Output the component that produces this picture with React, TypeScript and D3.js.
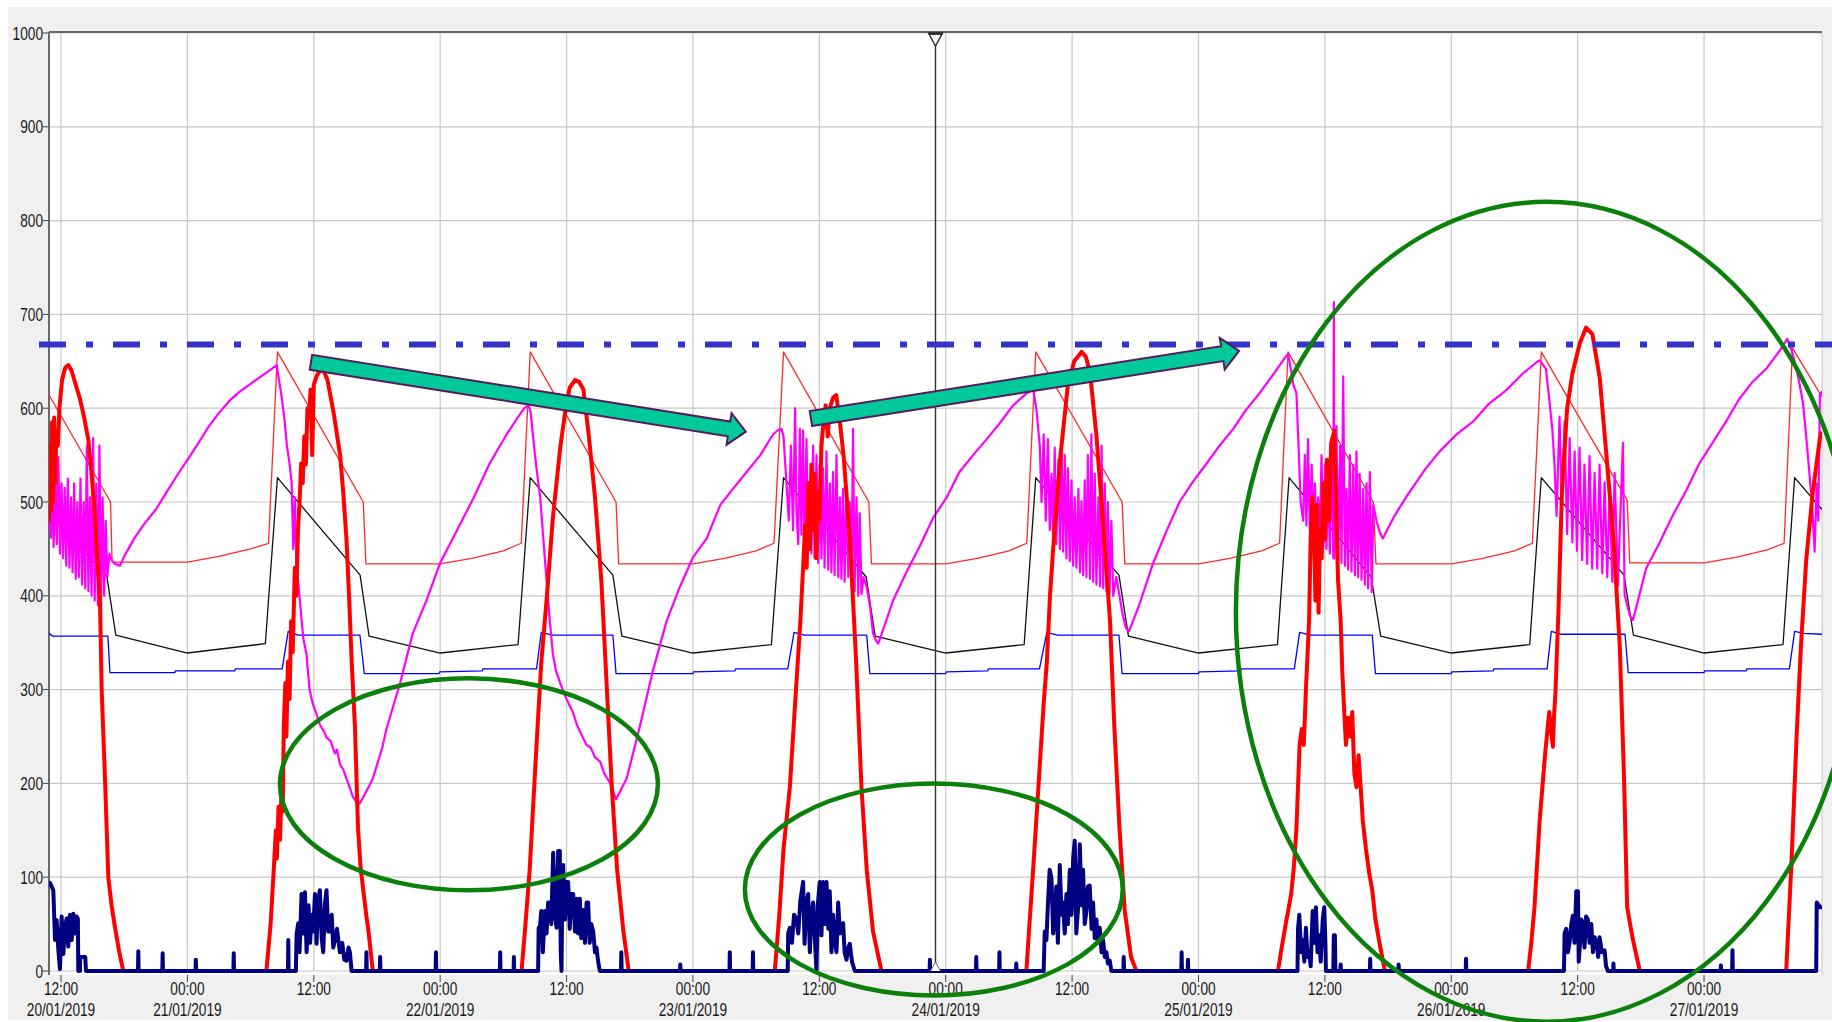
import React from 'react';
import * as d3 from 'd3';

type Pt = [number, number];

// hours counted from 20/01/2019 00:00
const startHour = 10.86;
const endHour = 179.2;
const yTicks = [0, 100, 200, 300, 400, 500, 600, 700, 800, 900, 1000];

// thick red (daily bell)
const redThick: Pt[] = [
  [10.86,478],[10.95,560],[11.05,490],[11.15,585],[11.25,500],[11.35,590],[11.45,520],[11.55,575],[11.7,560],[11.85,600],[12.1,630],[12.4,643],[12.7,646],[13.0,640],[13.4,625],[13.8,610],[14.2,590],[14.6,566],[14.9,530],[15.23,484],[15.5,430],[15.7,395],[15.86,300],[16.18,204],[16.49,100],[16.8,70],[17.12,47],[17.5,22],[17.91,0],
  [31.5,0],[31.9,50],[32.2,108],[32.4,150],[32.5,120],[32.65,175],[32.8,140],[32.95,200],[33.05,170],[33.15,260],[33.3,307],[33.4,250],[33.55,330],[33.7,290],[33.85,373],[34.0,340],[34.2,430],[34.35,400],[34.5,470],[34.65,500],[34.8,541],[34.95,520],[35.1,570],[35.25,540],[35.4,600],[35.55,590],[35.7,620],[35.85,550],[36.0,625],[36.3,635],[36.6,640],[36.9,641],[37.3,630],[37.6,612],[37.9,594],[38.2,572],[38.5,550],[38.8,510],[39.1,461],[39.35,400],[39.6,329],[39.9,263],[40.2,152],[40.45,110],[40.7,86],[41.0,58],[41.2,42],[41.6,0],
  [55.73,0],[56.1,50],[56.5,108],[56.85,180],[57.15,241],[57.6,329],[58.1,395],[58.7,483],[59.4,558],[59.85,594],[60.3,622],[60.8,630],[61.2,628],[61.6,620],[62.1,572],[62.7,505],[63.3,417],[63.8,307],[64.3,196],[64.8,108],[65.4,42],[65.9,0],
  [79.77,0],[80.2,60],[80.6,130],[81.2,196],[81.7,285],[82.2,373],[82.5,439],[82.65,475],[82.8,430],[82.95,520],[83.1,450],[83.25,540],[83.4,470],[83.55,530],[83.7,440],[83.85,510],[84.0,480],[84.2,560],[84.4,585],[84.6,603],[84.8,570],[85.0,600],[85.3,611],[85.6,614],[85.9,590],[86.3,550],[86.9,461],[87.5,329],[88.0,196],[88.5,108],[89.1,42],[89.9,0],
  [103.66,0],[103.95,50],[104.3,108],[104.8,196],[105.3,285],[105.6,329],[105.9,400],[106.2,450],[106.9,550],[107.6,625],[108.2,650],[108.9,660],[109.3,655],[109.7,638],[110.3,572],[110.9,483],[111.6,373],[112.0,263],[112.5,152],[113.0,64],[113.6,15],[114.1,0],
  [127.55,0],[127.9,25],[128.3,51],[128.8,82],[129.05,110],[129.3,152],[129.6,241],[129.8,258],[130.0,241],[130.2,300],[130.5,373],[130.65,461],[130.8,505],[130.95,480],[131.1,395],[131.25,497],[131.4,382],[131.55,470],[131.7,440],[131.85,520],[132.0,460],[132.2,545],[132.4,480],[132.6,563],[132.9,576],[133.1,480],[133.25,417],[133.5,373],[133.65,320],[133.8,285],[134.0,241],[134.2,270],[134.4,250],[134.6,276],[134.8,210],[135.0,196],[135.2,230],[135.4,196],[135.6,160],[135.9,130],[136.2,105],[136.5,86],[136.8,55],[137.2,29],[137.7,0],
  [151.3,0],[151.6,30],[151.9,68],[152.4,161],[152.9,230],[153.3,276],[153.5,254],[153.65,239],[153.75,270],[153.9,299],[154.2,392],[154.5,508],[155.0,600],[155.5,637],[156.2,669],[156.8,686],[157.4,679],[158.1,632],[158.7,554],[159.4,461],[160.0,346],[160.4,207],[160.7,68],[161.2,36],[161.9,0],
  [175.8,0],[176.3,115],[176.8,253],[177.2,346],[177.7,438],[178.3,508],[179.0,568],[179.2,575],
];

// thin red sawtooth
const redThin: Pt[] = [
  [10.86,614],[16.7,500],[16.85,436],[24.0,436],[27.0,442],[30.0,450],[31.7,456],[32.55,660],[40.7,500],[40.95,434],
  [48.0,434],[51.0,440],[54.0,448],[55.7,456],[56.55,660],[64.7,500],[64.95,434],
  [72.0,434],[75.0,440],[78.0,448],[79.7,456],[80.6,660],[88.7,500],[88.95,434],
  [96.0,434],[99.0,440],[102.0,448],[103.7,456],[104.55,660],[112.75,500],[113.0,434],
  [120.0,434],[123.0,440],[126.0,448],[127.7,456],[128.5,660],[136.6,500],[136.85,434],
  [144.0,434],[147.0,440],[150.0,448],[151.7,456],[152.55,660],[160.7,502],[160.95,435],
  [168.0,435],[171.0,441],[174.0,449],[175.6,456],[176.4,664],[179.2,612],
];

const black: Pt[] = [
  [10.86,487],[16.35,421],[17.2,358],[24.0,339],[31.4,349],[32.55,526],[40.4,422],[41.25,357],
  [48.0,339],[55.4,348],[56.55,526],[64.4,422],[65.25,357],
  [72.0,339],[79.45,348],[80.6,526],[88.45,420],[89.3,357],
  [96.0,339],[103.45,348],[104.55,526],[112.45,422],[113.35,357],
  [120.0,339],[127.5,348],[128.6,526],[136.4,420],[137.3,357],
  [144.0,339],[151.45,348],[152.55,526],[160.4,422],[161.3,358],
  [168.0,339],[175.5,348],[176.6,526],[179.2,492],
];

const blue: Pt[] = [
  [10.86,360],[11.2,357],[16.45,357],[16.65,318],[22.8,318],[22.85,320],[28.5,320],[28.55,322],[33.0,322],[33.57,362],[34.5,358],[40.38,358],[40.8,317],
  [47.9,317],[47.95,319],[52.0,320],[52.05,322],[57.15,322],[57.6,361],[58.6,358],[64.4,358],[64.7,317],
  [72.0,317],[72.05,319],[76.0,320],[76.05,322],[81.0,322],[81.6,361],[82.6,358],[88.5,358],[88.8,317],
  [96.0,317],[96.05,319],[100.0,320],[100.05,322],[104.9,322],[105.6,361],[106.6,358],[112.45,358],[112.75,317],
  [120.0,317],[120.05,319],[124.0,320],[124.05,322],[129.1,322],[129.6,361],[130.6,358],[136.5,358],[136.8,317],
  [144.0,317],[144.05,319],[148.0,320],[148.05,322],[153.1,322],[153.5,362],[154.5,359],[160.5,359],[160.8,318],
  [168.0,318],[168.05,320],[172.0,320],[172.05,322],[176.1,322],[176.6,362],[177.5,360],[179.2,359],
];

const magenta: Pt[] = [
  [10.86,470],[10.95,555],[11.05,462],[11.2,540],[11.3,452],[11.45,530],[11.6,455],[11.75,548],[11.9,445],[12.05,520],[12.2,440],[12.35,515],[12.5,432],[12.65,525],[12.8,430],[12.95,505],[13.1,425],[13.25,520],[13.4,418],[13.55,500],[13.7,420],[13.85,525],[14.0,412],[14.15,500],[14.3,408],[14.45,560],[14.6,405],[14.75,505],[14.9,400],[15.05,568],[15.2,395],[15.35,520],[15.5,390],[15.65,560],[15.8,388],[15.95,505],[16.1,400],[16.25,480],[16.4,420],[16.6,445],[16.8,438],[17.1,434],[17.6,432],
  [18.0,442],[19.0,462],[20.0,478],[21.0,492],[22.0,510],[23.0,528],[24.0,545],[25.0,562],[26.0,580],[27.0,595],[28.0,608],[29.0,618],[30.0,626],[31.0,634],[32.0,642],[32.47,646],
  [32.7,630],[32.95,612],[33.2,590],[33.45,560],[33.7,541],[33.9,520],[34.05,450],[34.2,505],[34.35,430],[34.5,417],[34.8,380],[35.0,355],[35.3,338],[35.6,300],[35.9,285],[36.2,276],[36.6,262],[37.0,255],[37.2,249],[37.6,245],[38.0,232],[38.2,236],[38.5,220],[38.8,215],[39.1,205],[39.4,196],[39.7,186],[39.9,183],[40.1,178],[40.4,179],
  [41.2,196],[41.6,205],[42.5,238],[42.9,258],[44.2,307],[45.4,360],[46.7,395],[48.0,435],[49.6,470],[51.2,505],[52.7,541],[54.3,572],[55.6,594],[56.0,600],[56.4,603],
  [56.6,595],[56.8,572],[57.1,540],[57.5,505],[57.8,460],[58.1,417],[58.4,375],[58.7,338],[59.0,320],[59.4,307],[59.8,295],[60.2,285],[60.6,276],[61.0,262],[61.5,250],[61.9,241],[62.3,238],[62.7,228],[63.2,223],[63.6,210],[64.1,201],[64.4,192],[64.7,183],
  [65.7,205],[66.9,258],[68.2,320],[69.5,373],[70.7,408],[72.0,441],[73.3,461],[74.6,497],[75.8,514],[77.1,532],[78.4,550],[79.6,572],[80.0,576],[80.4,578],
  [80.6,570],[80.88,520],[81.1,480],[81.3,560],[81.5,470],[81.7,600],[81.83,490],[82.0,455],[82.15,578],[82.3,465],[82.45,576],[82.6,450],[82.78,567],[82.95,455],[83.1,520],[83.25,445],[83.41,560],[83.55,440],[83.73,550],[83.9,435],[84.05,540],[84.2,440],[84.35,536],[84.5,430],[84.68,554],[84.85,428],[85.0,520],[85.15,425],[85.3,532],[85.45,422],[85.63,550],[85.8,420],[85.95,505],[86.1,418],[86.25,514],[86.4,415],[86.58,514],[86.75,420],[86.9,500],[87.05,410],[87.2,578],[87.35,405],[87.53,505],[87.7,400],[87.84,488],[88.0,402],[88.2,420],[88.48,410],[88.8,390],[89.1,360],[89.4,352],[89.6,349],
  [91.0,395],[92.3,426],[93.5,452],[94.8,483],[96.1,505],[97.3,532],[98.6,550],[99.9,567],[101.2,585],[102.4,603],[103.7,616],[104.3,620],
  [104.6,600],[104.93,560],[105.1,500],[105.3,572],[105.5,480],[105.7,567],[105.88,470],[106.05,530],[106.2,460],[106.35,558],[106.5,455],[106.7,545],[106.85,450],[107.0,563],[107.15,447],[107.3,550],[107.46,440],[107.6,536],[107.78,437],[107.94,523],[108.1,432],[108.25,505],[108.41,430],[108.6,514],[108.75,425],[108.89,501],[109.05,422],[109.2,523],[109.36,420],[109.5,550],[109.7,418],[109.83,572],[110.0,415],[110.15,530],[110.31,412],[110.5,505],[110.65,410],[110.8,560],[110.95,408],[111.1,520],[111.26,405],[111.4,500],[111.55,402],[111.73,480],[111.9,400],[112.2,420],[112.5,400],[112.8,380],[113.1,366],[113.4,362],
  [114.4,391],[115.7,435],[117.0,470],[118.2,500],[119.5,522],[120.7,540],[122.0,560],[123.3,578],[124.5,598],[125.8,616],[127.1,636],[128.1,652],[128.5,658],
  [128.8,640],[129.0,625],[129.3,616],[129.5,560],[129.7,500],[129.94,480],[130.1,550],[130.25,475],[130.4,567],[130.57,470],[130.75,540],[130.89,465],[131.05,520],[131.2,460],[131.36,505],[131.52,455],[131.68,550],[131.84,452],[132.0,540],[132.15,450],[132.3,528],[132.47,445],[132.65,560],[132.8,440],[132.85,713],[132.9,440],[133.1,581],[133.27,438],[133.45,560],[133.58,435],[133.74,634],[133.9,432],[134.06,514],[134.2,428],[134.37,550],[134.53,426],[134.7,540],[134.85,422],[135.0,554],[135.15,420],[135.3,530],[135.48,417],[135.64,514],[135.8,412],[135.95,520],[136.1,408],[136.27,532],[136.45,404],[136.6,497],[136.9,480],[137.2,468],[137.5,461],
  [138.6,485],[139.7,505],[141.6,536],[142.9,554],[144.5,572],[146.1,586],[147.6,605],[149.2,619],[150.8,637],[152.1,649],[152.4,651],
  [152.99,642],[153.3,610],[153.6,577],[153.8,540],[154.0,485],[154.28,591],[154.5,494],[154.76,586],[155.0,466],[155.24,568],[155.5,457],[155.71,554],[155.93,448],[156.18,558],[156.43,438],[156.65,540],[156.9,434],[157.13,549],[157.38,429],[157.61,531],[157.86,429],[158.08,540],[158.34,424],[158.56,521],[158.81,420],[159.04,512],[159.29,415],[159.51,531],[159.83,411],[160.0,470],[160.3,563],[160.46,401],[160.7,390],[161.0,378],[161.25,374],
  [162.5,429],[163.8,457],[165.0,485],[166.3,512],[167.5,540],[168.8,563],[170.1,586],[171.3,609],[172.6,628],[173.9,642],[175.1,660],[175.9,674],
  [176.3,662],[176.6,650],[177.0,630],[177.4,605],[177.7,570],[178.0,531],[178.3,490],[178.5,447],[178.7,520],[178.85,480],[179.0,614],[179.2,618],
];

// navy, thick, near zero
const navy: Pt[] = [
  [10.86,90],[10.95,94],[11.27,86],[11.43,33],[11.59,54],[11.75,22],[11.9,2],[12.06,58],[12.22,18],[12.38,47],[12.54,56],[12.69,26],[12.85,60],[13.01,33],[13.17,61],[13.33,40],[13.49,58],[13.6,56],[13.64,0],[13.8,0],[13.82,15],[14.3,15],[14.37,0],
  [19.31,0],[19.34,21],[19.37,0],[21.62,0],[21.65,19],[21.68,0],[24.77,0],[24.8,12],[24.83,0],[28.37,0],[28.4,19],[28.43,0],
  [33.55,0],[33.58,33],[33.61,0],[34.3,0],[34.37,40],[34.53,51],[34.65,20],[34.84,82],[35.0,40],[35.16,84],[35.32,20],[35.5,70],[35.65,30],[35.79,60],[35.95,42],[36.11,82],[36.26,29],[36.42,75],[36.58,86],[36.75,35],[36.9,20],[37.05,70],[37.21,86],[37.37,42],[37.53,42],[37.7,60],[37.85,25],[38.0,33],[38.2,45],[38.48,20],[38.7,30],[38.9,12],[39.11,11],[39.3,25],[39.43,20],[39.59,0],
  [40.97,0],[41.0,20],[41.03,0],[42.27,0],[42.3,15],[42.33,0],[47.57,0],[47.6,20],[47.63,0],[53.67,0],[53.7,20],[53.73,0],[54.97,0],[55.0,15],[55.03,0],
  [57.3,0],[57.35,46],[57.47,46],[57.6,64],[57.75,20],[57.94,64],[58.1,40],[58.25,73],[58.42,73],[58.55,50],[58.73,126],[58.9,60],[59.05,46],[59.2,128],[59.36,128],[59.45,20],[59.52,0],[59.6,90],[59.68,113],[59.85,55],[60.0,95],[60.15,95],[60.3,45],[60.45,82],[60.63,82],[60.8,42],[60.95,77],[61.1,40],[61.26,77],[61.4,35],[61.6,65],[61.75,30],[61.9,73],[62.05,73],[62.2,30],[62.35,50],[62.53,42],[62.7,20],[62.84,25],[63.0,10],[63.16,0],
  [65.17,0],[65.2,20],[65.23,0],[70.77,0],[70.8,7],[70.83,0],[75.47,0],[75.5,20],[75.53,0],[77.67,0],[77.7,20],[77.73,0],
  [81.0,0],[81.04,40],[81.2,46],[81.4,30],[81.6,60],[81.83,55],[82.0,40],[82.2,75],[82.46,95],[82.6,29],[82.75,70],[82.94,82],[83.1,20],[83.25,60],[83.41,73],[83.55,40],[83.73,0],[83.85,70],[84.04,95],[84.2,38],[84.36,95],[84.5,50],[84.68,95],[84.85,45],[84.99,85],[85.15,20],[85.3,60],[85.5,30],[85.63,20],[85.79,73],[85.95,40],[86.1,50],[86.26,51],[86.4,20],[86.58,12],[86.75,25],[86.89,29],[87.1,10],[87.37,0],
  [94.47,0],[94.5,12],[94.53,0],[98.87,0],[98.9,15],[98.93,0],[101.07,0],[101.1,20],[101.13,0],[102.67,0],[102.7,8],[102.73,0],
  [105.3,0],[105.4,42],[105.56,33],[105.7,70],[105.87,108],[106.04,99],[106.2,40],[106.35,55],[106.5,90],[106.65,30],[106.83,113],[107.0,60],[107.14,73],[107.3,40],[107.46,82],[107.6,50],[107.78,108],[107.95,60],[108.1,120],[108.25,139],[108.4,40],[108.57,68],[108.73,135],[108.9,70],[109.04,108],[109.2,50],[109.36,64],[109.5,90],[109.67,91],[109.85,45],[109.99,73],[110.15,35],[110.31,55],[110.45,30],[110.62,46],[110.8,20],[110.94,33],[111.1,15],[111.26,20],[111.4,8],[111.57,11],[111.73,0],
  [112.87,0],[112.9,15],[112.93,0],[118.37,0],[118.4,20],[118.43,0],[118.97,0],[119.0,12],[119.03,0],
  [129.4,0],[129.45,45],[129.57,60],[129.75,20],[129.89,33],[130.05,10],[130.2,46],[130.35,15],[130.52,20],[130.65,5],[130.84,64],[131.0,30],[131.15,68],[131.3,20],[131.47,38],[131.6,10],[131.8,55],[131.94,68],[132.05,30],[132.1,0],[132.8,0],[132.85,38],[132.95,38],[133.0,0],
  [133.47,0],[133.5,7],[133.53,0],[136.27,0],[136.3,13],[136.33,0],[138.97,0],[139.0,7],[139.03,0],[145.37,0],[145.4,13],[145.43,0],
  [154.7,0],[154.76,40],[154.92,45],[155.08,20],[155.24,31],[155.4,50],[155.55,59],[155.7,30],[155.87,85],[156.03,85],[156.1,10],[156.18,22],[156.35,55],[156.5,50],[156.65,25],[156.8,58],[156.97,55],[157.13,30],[157.29,50],[157.45,20],[157.61,36],[157.8,30],[157.95,15],[158.08,36],[158.3,20],[158.56,22],[158.7,5],[158.87,0],
  [159.37,0],[159.4,8],[159.43,0],[169.57,0],[169.6,6],[169.63,0],[170.67,0],[170.7,22],[170.73,0],
  [178.65,0],[178.7,73],[178.9,70],[179.0,68],[179.2,68],
];

const limitValue = 668;
const cursorHour = 95.03;

// annotations, in data units: [centerHour, centerValue, radiusHours, radiusValue]
const ellipses: [number, number, number, number][] = [
  [50.73, 199, 17.94, 113],
  [94.87, 87, 17.94, 113],
  [153.05, 383, 29.5, 437],
];
// arrows: [tailHour, tailValue, tipHour, tipValue]
const arrows: [number, number, number, number][] = [
  [35.73, 649, 77.02, 575],
  [83.2, 589, 123.85, 661],
];

const font = "'Liberation Sans', Arial, sans-serif";

function arrowPath(x0: number, y0: number, x1: number, y1: number) {
  const dx = x1 - x0, dy = y1 - y0;
  const len = Math.hypot(dx, dy);
  const ux = dx / len, uy = dy / len;
  const nx = -uy, ny = ux;
  const hb = 7.5, hh = 16, hl = 17;
  const neckX = x1 - ux * hl, neckY = y1 - uy * hl;
  const p = [
    [x0 + nx * hb, y0 + ny * hb],
    [neckX + nx * hb, neckY + ny * hb],
    [neckX + nx * hh, neckY + ny * hh],
    [x1, y1],
    [neckX - nx * hh, neckY - ny * hh],
    [neckX - nx * hb, neckY - ny * hb],
    [x0 - nx * hb, y0 - ny * hb],
  ];
  return 'M' + p.map(q => q.join(',')).join('L') + 'Z';
}

// narrow label, like the condensed system font of the original
const Label = ({ x, y, anchor, children }: { x: number; y: number; anchor: string; children: React.ReactNode }) => (
  <text transform={`translate(${x},${y}) scale(0.76,1)`} textAnchor={anchor} fontFamily={font} fontSize={18} fill="#1a1a1a">
    {children}
  </text>
);

export default function App() {
  const W = 1832, H = 1022;
  const left = 49, right = 1822, top = 33, bottom = 971;
  const base = new Date(2019, 0, 20).getTime();
  const toDate = (h: number) => new Date(base + h * 3600e3);

  const x = d3.scaleTime().domain([toDate(startHour), toDate(endHour)]).range([left, right]);
  const y = d3.scaleLinear().domain([0, 1000]).range([bottom, top]);
  const xh = (h: number) => x(toDate(h));
  const line = d3.line<Pt>().x(d => xh(d[0])).y(d => y(d[1]));

  const xTicks = x.ticks(d3.timeHour.every(12)!);
  const fmtTime = d3.timeFormat('%H:%M');
  const fmtDate = d3.timeFormat('%d/%m/%Y');
  const cx = xh(cursorHour);

  return (
    <svg width={W} height={H} style={{ position: 'absolute', left: 0, top: 0, display: 'block' }}>
      <defs>
        <clipPath id="plot">
          <rect x={left} y={top - 1} width={right - left} height={bottom - top + 4} />
        </clipPath>
      </defs>
      <rect width={W} height={H} fill="#fff" />
      <rect x={8} y={7} width={W - 8} height={1013} fill="#f0f0f0" />
      <rect x={left} y={top - 1} width={right - left} height={bottom - top + 5} fill="#fff" />

      {yTicks.map(v => (
        <g key={v}>
          <line x1={left} x2={right} y1={y(v)} y2={y(v)} stroke="#c8c8c8" strokeWidth={1.2} />
          <line x1={left - 6} x2={left} y1={y(v)} y2={y(v)} stroke="#444" />
          <Label x={left - 6} y={y(v) + 6.5} anchor="end">{v}</Label>
        </g>
      ))}
      {xTicks.map((t, i) => {
        const px = x(t);
        const withDate = t.getHours() === 0 || i === 0;
        return (
          <g key={t.getTime()}>
            <line x1={px} x2={px} y1={top} y2={bottom} stroke="#c8c8c8" strokeWidth={1.2} />
            <line x1={px} x2={px} y1={bottom + 4} y2={bottom + 11} stroke="#444" />
            <Label x={px} y={bottom + 24} anchor="middle">{fmtTime(t)}</Label>
            {withDate && <Label x={px} y={bottom + 45} anchor="middle">{fmtDate(t)}</Label>}
          </g>
        );
      })}

      <line x1={right} x2={right} y1={top} y2={bottom + 4} stroke="#c8c8c8" />
      <line x1={left} x2={left} y1={top - 1} y2={bottom + 4} stroke="#6a6a6a" strokeWidth={2} />
      <line x1={left} x2={right} y1={top - 1} y2={top - 1} stroke="#6a6a6a" strokeWidth={2} />

      <g clipPath="url(#plot)" fill="none" strokeLinejoin="round">
        <path d={line(redThin)!} stroke="#ff2a2a" strokeWidth={1.3} />
        <path d={line(black)!} stroke="#111" strokeWidth={1.3} />
        <path d={line(blue)!} stroke="#0000ff" strokeWidth={1.3} />
        <path d={line(magenta)!} stroke="#ff00ff" strokeWidth={2.2} />
        <path d={line(redThick)!} stroke="#ff0000" strokeWidth={4} />
        <path d={line(navy)!} stroke="#000080" strokeWidth={4} />
      </g>

      <line x1={cx} x2={cx} y1={top} y2={bottom} stroke="#333" strokeWidth={1.4} />
      <path d={`M${cx - 7},${top}L${cx + 7},${top}L${cx},${top + 13}Z`} fill="#fff" stroke="#333" strokeWidth={1.5} />
      <rect x={cx - 7} y={top - 1} width={14} height={3} fill="#333" />
      <path d={`M${cx - 5},${bottom}L${cx},${bottom - 9}L${cx + 5},${bottom}`} fill="#fff" stroke="#666" strokeWidth={1} />

      <line x1={left - 10} x2={W} y1={y(limitValue)} y2={y(limitValue)} stroke="#3434c8" strokeWidth={6} strokeDasharray="27 20 7 20" />

      {arrows.map((a, i) => (
        <path key={i} d={arrowPath(xh(a[0]), y(a[1]), xh(a[2]), y(a[3]))} fill="#00c99a" stroke="#561a5e" strokeWidth={2} strokeLinejoin="miter" />
      ))}
      {ellipses.map((e, i) => (
        <ellipse key={i} cx={xh(e[0])} cy={y(e[1])} rx={xh(e[0] + e[2]) - xh(e[0])} ry={y(0) - y(e[3])} fill="none" stroke="#0b800b" strokeWidth={4.5} />
      ))}
    </svg>
  );
}
